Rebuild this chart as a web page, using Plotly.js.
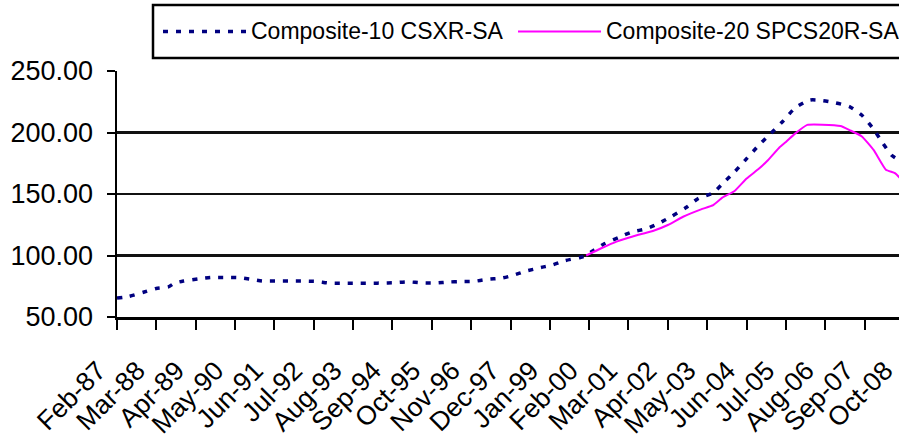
<!DOCTYPE html>
<html>
<head>
<meta charset="utf-8">
<script src="https://cdn.plot.ly/plotly-3.0.1.min.js"></script>
<style>
html,body{margin:0;padding:0;overflow:hidden;background:#fff;}
#chart{width:950px;height:441px;}
</style>
</head>
<body>
<div id="chart"></div>
<script>
// ---- Data ----
var c10Dates = ["1987-02","1987-06","1987-11","1988-03","1988-07","1988-09","1988-12","1989-05","1989-09","1990-02",
  "1990-06","1990-10","1991-02","1991-07","1991-11","1992-04","1992-08","1992-12","1993-05","1993-09",
  "1994-02","1994-06","1994-09","1995-02","1995-07","1995-11","1996-04","1996-07","1996-12","1997-04",
  "1997-09","1998-01","1998-05","1998-10","1999-02","1999-06","1999-11","2000-01","2000-03","2000-07",
  "2000-12","2001-04","2001-09","2002-01","2002-05","2002-10","2003-02","2003-07","2003-10","2004-02",
  "2004-06","2004-10","2005-01","2005-06","2005-10","2006-03","2006-07","2006-11","2007-04","2007-08",
  "2007-12","2008-03","2008-06","2008-09"];
var c10Values = [65.4,66.7,70.3,73.2,74.5,77.5,79.2,81.0,82.1,82.2,
  82.1,80.8,79.3,79.2,79.2,79.2,78.9,77.6,77.5,77.5,
  77.5,77.6,77.8,78.6,77.7,77.6,78.5,78.8,79.0,80.5,
  81.6,84.0,87.2,90.2,92.4,95.8,98.4,100.0,103.5,109.5,
  115.0,119.0,121.9,126.2,131.5,139.0,146.4,151.0,158.3,168.0,
  178.8,189.6,197.0,209.2,220.0,226.4,226.0,224.3,221.0,214.2,
  202.5,191.3,181.3,176.5];

var c20Dates = ["2000-01","2000-06","2000-11","2001-06","2001-11","2002-04","2002-09","2003-03","2003-07","2003-10",
  "2004-02","2004-06","2004-10","2005-01","2005-05","2005-07","2005-10","2006-02","2006-07","2007-01","2007-04",
  "2007-08","2007-12","2008-04","2008-07","2008-09"];
var c20Values = [100.0,105.9,111.3,116.7,119.9,124.8,131.5,137.5,141.0,147.0,
  152.5,162.6,170.5,177.5,188.2,192.3,199.1,206.2,206.4,205.3,202.0,
  197.0,185.6,169.7,167.0,162.0];

var seriesNames = ["Composite-10 CSXR-SA","Composite-20 SPCS20R-SA"];

var xTickVals = ["1987-02-01","1988-03-01","1989-04-01","1990-05-01","1991-06-01","1992-07-01","1993-08-01",
  "1994-09-01","1995-10-01","1996-11-01","1997-12-01","1999-01-01","2000-02-01","2001-03-01","2002-04-01",
  "2003-05-01","2004-06-01","2005-07-01","2006-08-01","2007-09-01","2008-10-01"];
var xTickText = ["Feb-87","Mar-88","Apr-89","May-90","Jun-91","Jul-92","Aug-93","Sep-94","Oct-95","Nov-96",
  "Dec-97","Jan-99","Feb-00","Mar-01","Apr-02","May-03","Jun-04","Jul-05","Aug-06","Sep-07","Oct-08"];
var yTickVals = [50,100,150,200,250];
var yTickText = ["50.00","100.00","150.00","200.00","250.00"];

// ---- Layout geometry ----
var W = 950, H = 441, ML = 117, MR = 10, MT = 71, MB = 124;
var PW = W - ML - MR, PH = H - MT - MB;
function px2x(px){ return (px - ML) / PW; }
function py2y(py){ return (H - MB - py) / PH; }

var FONT = "Liberation Sans, Arial, sans-serif";
var navy = "#000080", magenta = "#FF00FF";
var blueDash = "5px,8px";

var traces = [
  {x: c10Dates, y: c10Values, name: seriesNames[0], type: "scatter", mode: "lines",
   line: {color: navy, width: 3.5, dash: blueDash, shape: "spline", smoothing: 0.6}, showlegend: false},
  {x: c20Dates, y: c20Values, name: seriesNames[1], type: "scatter", mode: "lines",
   line: {color: magenta, width: 2, shape: "spline", smoothing: 0.4}, showlegend: false}
];

var legY = 31.5;
var shapes = [
  {type: "rect", xref: "paper", yref: "paper", x0: px2x(153), x1: px2x(1000), y0: py2y(58), y1: py2y(5),
   line: {color: "#000", width: 2.5}, fillcolor: "rgba(0,0,0,0)"},
  {type: "line", xref: "paper", yref: "paper", x0: px2x(163), x1: px2x(248), y0: py2y(legY), y1: py2y(legY),
   line: {color: navy, width: 3.5, dash: blueDash}},
  {type: "line", xref: "paper", yref: "paper", x0: px2x(518), x1: px2x(601), y0: py2y(legY), y1: py2y(legY),
   line: {color: magenta, width: 2}}
];
var annotations = [
  {xref: "paper", yref: "paper", x: px2x(249), y: py2y(legY), xanchor: "left", yanchor: "middle",
   text: seriesNames[0], showarrow: false, font: {family: FONT, size: 23, color: "#000"}},
  {xref: "paper", yref: "paper", x: px2x(604), y: py2y(legY), xanchor: "left", yanchor: "middle",
   text: seriesNames[1], showarrow: false, font: {family: FONT, size: 23, color: "#000"}}
];

var layout = {
  width: W, height: H,
  margin: {l: ML, r: MR, t: MT, b: MB, pad: 0},
  paper_bgcolor: "#fff", plot_bgcolor: "#fff",
  font: {family: FONT, color: "#000"},
  showlegend: false,
  xaxis: {
    type: "date", range: ["1987-02-01", "2009-09-27"],
    tickmode: "array", tickvals: xTickVals, ticktext: xTickText,
    tickangle: -45, tickfont: {family: FONT, size: 26.5, color: "#000"},
    ticks: "outside", ticklen: 10, tickwidth: 2, tickcolor: "#000",
    ticklabelstandoff: 15, ticklabelshift: -19,
    showline: true, linecolor: "#000", linewidth: 2.5,
    showgrid: false, zeroline: false
  },
  yaxis: {
    range: [50, 250], tickmode: "array", tickvals: yTickVals, ticktext: yTickText,
    tickfont: {family: FONT, size: 27, color: "#000"},
    ticks: "outside", ticklen: 8, tickwidth: 2, tickcolor: "#000",
    ticklabelstandoff: 8,
    showline: true, linecolor: "#000", linewidth: 2.5,
    showgrid: true, gridcolor: "#111", gridwidth: 2.5, zeroline: false
  },
  shapes: shapes,
  annotations: annotations
};

Plotly.newPlot("chart", traces, layout, {staticPlot: true, displayModeBar: false});
</script>
</body>
</html>
